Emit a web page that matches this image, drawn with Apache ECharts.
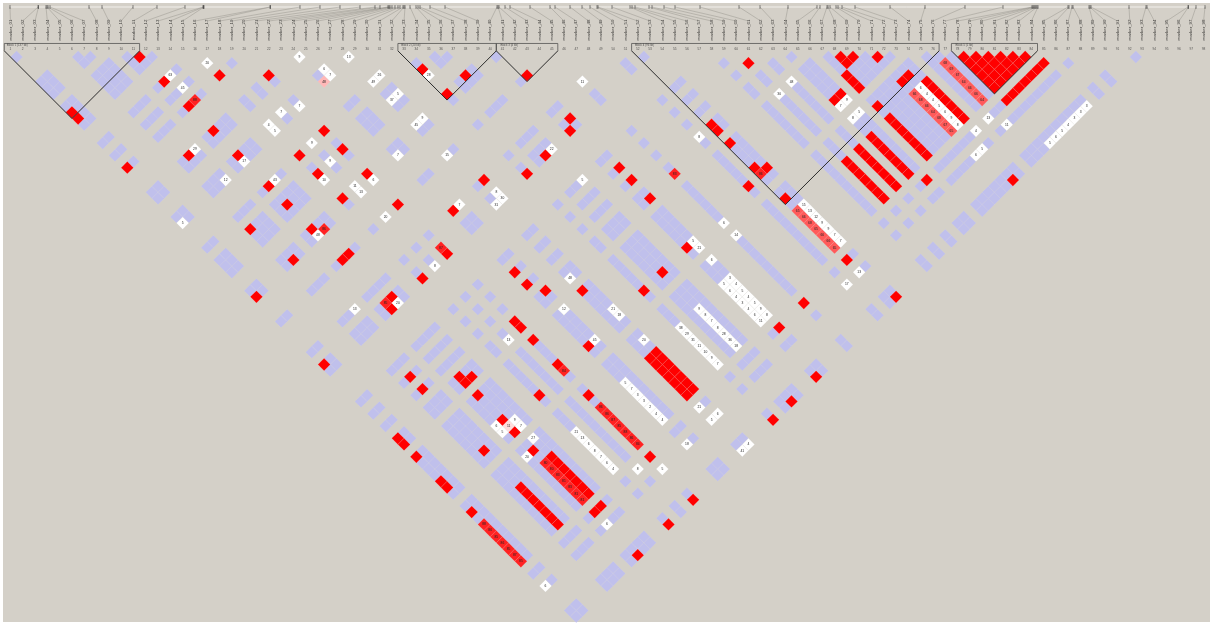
<!DOCTYPE html>
<html><head><meta charset="utf-8">
<style>
html,body{margin:0;padding:0;background:#fff;width:1212px;height:623px;overflow:hidden}
#bg{position:absolute;left:3px;top:3px;width:1207px;height:619px;background:#d4d0c8}
#c{position:absolute;left:0;top:0;width:1212px;height:623px;filter:blur(.45px)}
</style></head><body><div id="bg"></div><div id="c"></div>
<script src="https://cdn.jsdelivr.net/npm/echarts@6/dist/echarts.min.js"></script>
<script>
// markers that carry a coloured cell against every other one of this list
const scoredMarkers=[1,2,6,7,8,10,11,12,13,16,18,20,24,25,28,29,33,35,36,37,40,41,45,50,52,53,58,60,62,64,65,67,68,69,70,71,72,73,75,76,77,78,79,80,81,82,83,84,86,88,92,93];
const markerNumbers=[1,2,3,4,5,6,7,8,9,10,11,12,13,14,15,16,17,18,19,20,21,22,23,24,25,26,27,28,29,30,31,32,33,34,35,36,37,38,39,40,41,42,43,44,45,46,47,48,49,50,51,52,53,54,55,56,57,58,59,60,61,62,63,64,65,66,67,68,69,70,71,72,73,74,75,76,77,78,79,80,81,82,83,84,85,86,87,88,89,90,91,92,93,94,95,96,97,98];
// estimated position of each marker on the map bar
const mapPositions=[10,38,38.5,46,47,48,50,89,102,133,157,185,203,203.5,204,270,270.5,300,320,340,360,375,380,388,389,390,392,395,398,400,403,404,405,410,416,418,420,430,445,497,498,499,505,510,530,550,555,570,582,590,597,598,612,630,632,635,649,652,664,675,700,739,760,788,817,820,827,828,830,836,838,842,855,890,925,965,1003,1032,1033,1034,1035,1036,1037,1038,1068,1069,1072,1073,1089,1090,1091,1129,1146,1147,1188,1188.5,1196,1205];
// blocks: first marker, last marker, title
const blocks=[[1,11,'Block 1 (137 kb)'],[33,40,'Block 2 (20 kb)'],[41,45,'Block 3 (4 kb)'],[52,76,'Block 4 (96 kb)'],[78,84,'Block 5 (1 kb)']];
// full red cells [i,j]
const redCells=[[11,12],[1,11],[1,12],[16,20],[20,24],[11,16],[11,20],[20,33],[16,33],[20,36],[16,36],[7,24],[11,24],[11,28],[11,33],[11,36],[6,35],[11,40],[7,41],[20,40],[16,40],[20,45],[12,45],[11,45],[12,52],[11,53],[1,20],[1,41],[33,36],[36,40],[33,40],[41,45],[41,52],[40,53],[36,53],[41,60],[41,62],[41,65],[29,50],[24,50],[24,60],[24,62],[25,64],[28,67],[20,64],[20,65],[33,72],[36,72],[33,53],[20,53],[16,53],[1,52],[1,64],[1,65],[1,67],[1,71],[1,72],[1,76],[7,60],[7,62],[7,72],[11,64],[12,65],[11,65],[11,67],[11,71],[11,73],[16,72],[20,67],[20,71],[20,76],[11,76],[20,86],[16,93],[20,93],[11,86],[12,86],[11,93],[24,72],[41,86],[45,86],[40,93],[36,93],[33,93],[40,72],[60,62],[52,64],[52,65],[52,67],[52,71],[53,72],[53,93],[72,93],[50,72],[52,76],[68,69],[69,70],[68,70],[71,72],[67,71],[67,72],[67,73],[65,72],[64,72],[67,76],[71,76],[72,76],[65,86],[52,86]];
// red rectangles [i1,i2,j1,j2]
const redRects=[[7,7,78,84],[12,12,78,84],[28,29,78,84],[60,60,78,84],[62,62,78,84],[64,64,78,84],[67,67,78,84],[73,73,78,84],[78,83,79,84],[78,84,86,86]];
// strong / medium / pale cells [i,j,printed value]
const strongCells=[[12,20,88],[12,41,86],[11,52,85],[20,52,87],[20,72,84],[52,72,86],[45,65,83],
[1,78,88],[1,79,86],[1,80,85],[1,81,86],[1,82,85],[1,83,87],[1,84,85],
[20,78,86],[20,79,86],[20,80,87],[20,81,85],[20,82,88],[20,83,86],[20,84,84],
[11,78,80],[11,79,80],[11,80,83],[11,81,81],[11,82,83],[11,83,81],[11,84,81]];
const mediumCells=[[76,78,68],[76,79,69],[76,80,67],[76,81,64],[76,82,66],[76,83,66],[76,84,64],
[71,78,66],[71,79,68],[71,80,66],[71,81,64],[71,82,68],[71,83,67],[71,84,65],
[52,78,65],[52,79,66],[52,80,68],[52,81,65],[52,82,66],[52,83,66],[52,84,65]];
const paleCells=[[24,29,'48'],[11,72,'11']];
// white cells [i,j,printed value]
const whiteCells=[[16,18,20],[24,25,9],[28,29,13],[25,28,6],[25,29,7],[12,16,63],[12,18,45],[20,29,7],[18,28,7],[16,28,4],[16,29,5],[18,33,9],[18,36,9],[16,37,10],[29,33,26],[28,33,49],[28,36,37],[29,36,5],[24,41,7],[8,24,29],[11,29,17],[8,29,12],[12,33,43],[1,29,5],[18,45,20],[20,41,6],[18,40,11],[18,41,13],[11,41,48],[12,53,20],[8,50,13],[33,37,28],[45,50,11],[29,40,9],[28,40,45],[28,45,15],[37,53,22],[29,52,8],[29,53,30],[28,53,31],[25,50,7],[18,53,8],[37,58,5],[28,65,48],[29,71,21],[29,72,18],[25,67,12],[25,72,45],[18,65,13],[10,71,6],[10,72,5],[12,72,9],[12,73,7],[12,75,27],[10,76,20],[1,88,6],[18,86,8],[20,88,5],[11,88,6],[29,76,20],[28,86,21],[28,88,5],[29,88,6],[24,88,18],[28,93,41],[29,93,4],[50,88,17],[62,67,48],[60,67,30],[50,64,8],[45,73,6],[45,75,14],[41,72,5],[41,73,21],[41,75,6],[64,73,7],[65,73,9],[64,75,8],[65,75,5],[76,88,11],[75,86,13],[73,86,4],[71,88,6],[72,88,5],[52,88,13],
[16,78,21],[16,79,13],[16,80,6],[16,81,8],[16,82,7],[16,83,6],[16,84,4],
[24,78,5],[24,79,7],[24,80,3],[24,81,3],[24,82,2],[24,83,4],[24,84,4],
[33,78,38],[33,79,29],[33,80,31],[33,81,11],[33,82,10],[33,83,9],[33,84,7],
[36,78,9],[36,79,8],[36,80,7],[36,81,8],[36,82,28],[36,83,36],[36,84,18],
[40,78,5],[40,79,6],[40,80,4],[40,81,3],[40,82,4],[40,83,6],[40,84,11],
[41,78,3],[41,79,4],[41,80,5],[41,81,4],[41,82,5],[41,83,9],[41,84,8],
[53,78,15],[53,79,13],[53,80,12],[53,81,9],[53,82,9],[53,83,7],[53,84,7],
[72,78,6],[72,79,4],[72,80,4],[72,81,5],[72,82,6],[72,83,9],[72,84,8],
[78,93,5],[79,93,6],[80,93,5],[81,93,4],[82,93,3],[83,93,3],[84,93,3]];

const PX=12.3, ZERO=-1.85; // chart frame only: width of one marker, offset of marker 0
const key=(i,j)=>i+'-'+j, pos=(i,j)=>[(i+j)/2,j-i];
const taken={};
const redData=[],strongData=[],mediumData=[],paleData=[],whiteData=[],blueData=[];
redCells.forEach(([i,j])=>{taken[key(i,j)]=1;redData.push(pos(i,j));});
redRects.forEach(([a,b,c,d])=>{for(let i=a;i<=b;i++)for(let j=c;j<=d;j++)if(i<j){taken[key(i,j)]=1;redData.push(pos(i,j));}});
const addL=(list,out)=>list.forEach(([i,j,n])=>{taken[key(i,j)]=1;out.push([...pos(i,j),String(n)]);});
addL(strongCells,strongData);addL(mediumCells,mediumData);addL(paleCells,paleData);addL(whiteCells,whiteData);
scoredMarkers.forEach((i,a)=>scoredMarkers.slice(a+1).forEach(j=>{if(!taken[key(i,j)])blueData.push(pos(i,j));}));

const cell=(name,color,data,border,labelled)=>({name,type:'scatter',data,symbol:'diamond',symbolSize:[PX,PX],silent:true,animation:false,clip:false,
 itemStyle:{color,opacity:1,borderColor:border,borderWidth:.4},
 label:labelled?{show:true,position:'inside',fontSize:3.3,fontFamily:'Liberation Sans',color:'#222',formatter:p=>p.data[2]}:{show:false}});
const text=(name,data,size,rotate,color)=>({name,type:'scatter',data,symbol:'circle',symbolSize:1,silent:true,animation:false,clip:false,itemStyle:{color:'transparent'},
 label:{show:true,position:'inside',fontSize:size,rotate,color,fontFamily:'Liberation Sans',formatter:p=>p.data[2]}});
const path=(name,data,color,width)=>({name,type:'line',data,showSymbol:false,symbol:'none',silent:true,animation:false,clip:false,connectNulls:false,lineStyle:{color,width}});

const BAR=-7.13, FAN=-4.85, BR=-1.2;
const mapX=p=>(p-ZERO)/PX;
const fan=[],ticks=[];
markerNumbers.forEach((m,k)=>{const x=mapX(mapPositions[k]);fan.push([x,BAR],[m,FAN],[NaN,NaN]);ticks.push([x,BAR-.3],[x,BAR+.3],[NaN,NaN]);});
const tri=[],br=[];
blocks.forEach(([a,b])=>{tri.push([a-.5,0],[(a+b)/2,b-a+1],[b+.5,0],[NaN,NaN]);br.push([a-.5,0],[a-.5,BR],[b+.5,BR],[b+.5,0],[NaN,NaN]);});

echarts.init(document.getElementById('c'),null,{renderer:'canvas',width:1212,height:623}).setOption({
 animation:false,backgroundColor:'transparent',
 grid:{left:0,right:0,top:0,bottom:0},
 xAxis:{type:'value',show:false,min:-ZERO/PX,max:(1212-ZERO)/PX},
 yAxis:{type:'value',show:false,inverse:true,min:-50.85/6.15,max:(623-50.85)/6.15},
 series:[
  cell('blue','#c0c0ec',blueData,'rgba(255,255,255,.1)',false),
  cell('red','#ff0000',redData,'rgba(255,200,200,.3)',false),
  cell('strong','#ff2222',strongData,'rgba(255,200,200,.25)',true),
  cell('medium','#ff5a5a',mediumData,'rgba(255,200,200,.25)',true),
  cell('pale','#ffb8b8',paleData.slice(0,1),'rgba(255,255,255,.1)',true),
  cell('paler','#ffdcdc',paleData.slice(1),'rgba(255,255,255,.1)',true),
  cell('white','#ffffff',whiteData,'rgba(200,200,200,.3)',true),
  path('map bar',[[mapX(10),BAR],[mapX(1205),BAR]],'#f2f0ec',1),
  path('map links',fan,'#8a8880',.4),
  path('map ticks',ticks,'#333',.6),
  text('names',markerNumbers.map(m=>[m,-3.39,'marker_'+String(m).padStart(2,'0')]),4.4,90,'#111'),
  text('numbers',markerNumbers.map(m=>[m,-.25,String(m)]),3.2,0,'#333'),
  path('block brackets',br,'#444',.7),
  path('block outlines',tri,'#2a2a2a',1),
  text('block titles',blocks.map(([a,b,t])=>[a-.5+1.05,-.95,t]),2.9,0,'#333')
 ]
});
</script></body></html>
